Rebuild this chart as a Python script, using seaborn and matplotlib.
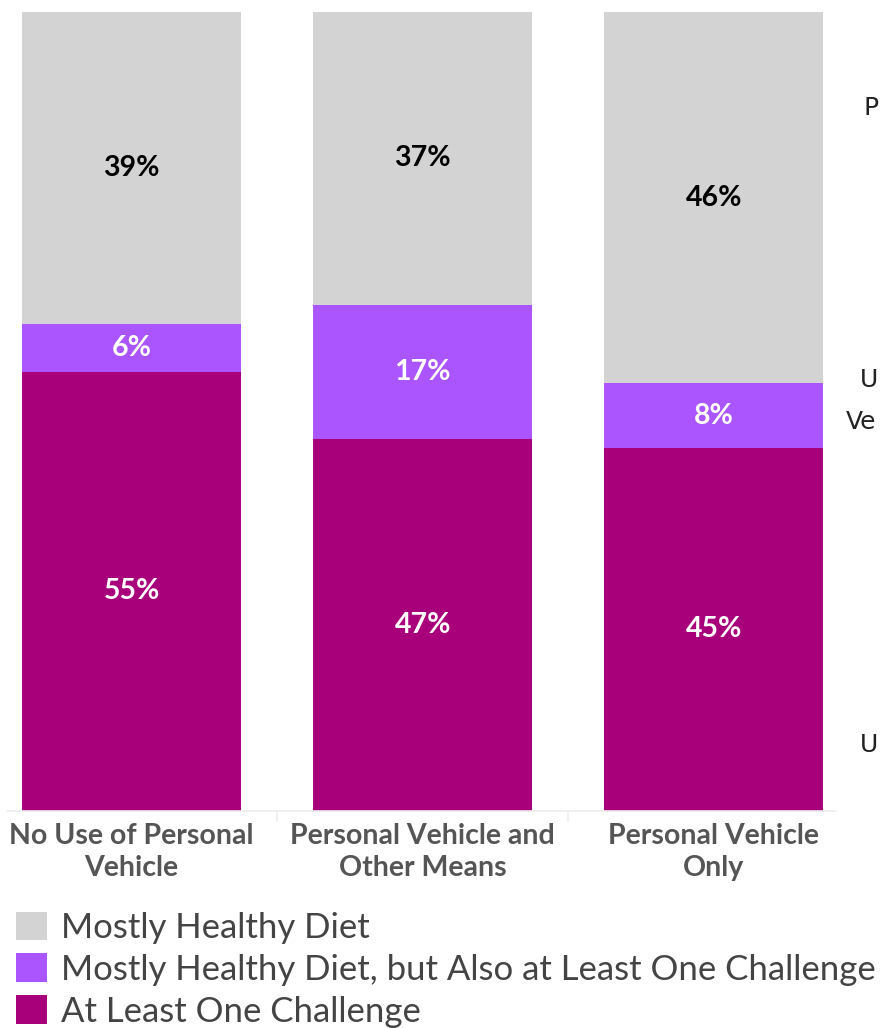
import matplotlib
matplotlib.use("Agg")
import matplotlib.pyplot as plt
import matplotlib.patches as mpatches
import seaborn as sns
import pandas as pd
import numpy as np

categories = ["No Use of Personal\nVehicle", "Personal Vehicle and\nOther Means", "Personal Vehicle\nOnly"]
series_names = ["Mostly Healthy Diet", "Mostly Healthy Diet, but Also at Least One Challenge", "At Least One Challenge"]
healthy = [39, 37, 46]
healthy_challenge = [6, 17, 8]
challenge = [55, 47, 45]
colors = ["#D3D3D3", "#AA55FF", "#A8007A"]
label_colors = ["black", "white", "white"]

sns.set_theme(style="white")
plt.rcParams["font.family"] = ["Lato", "DejaVu Sans"]

vals = np.array([healthy, healthy_challenge, challenge], dtype=float)
norm = vals / vals.sum(axis=0) * 100  # stacked 100%
bottom_layer = norm[2]
mid_layer = norm[2] + norm[1]
top_layer = norm[2] + norm[1] + norm[0]

df = pd.DataFrame({"cat": categories, "top": top_layer, "mid": mid_layer, "bot": bottom_layer})

fig = plt.figure(figsize=(8.82, 10.28), dpi=100)
ax = fig.add_axes([7/882, 1 - 811/1028, (836-7)/882, (811-12)/1028])

w = 219/291
sns.barplot(data=df, x="cat", y="top", color=colors[0], width=w, ax=ax, saturation=1, linewidth=0)
sns.barplot(data=df, x="cat", y="mid", color=colors[1], width=w, ax=ax, saturation=1, linewidth=0)
sns.barplot(data=df, x="cat", y="bot", color=colors[2], width=w, ax=ax, saturation=1, linewidth=0)

ax.set_ylim(0, 100)
ax.set_xlim(-0.428, 2.42)
ax.set_xlabel("")
ax.set_ylabel("")
ax.set_yticks([])
for s in ["top", "right", "left"]:
    ax.spines[s].set_visible(False)
ax.spines["bottom"].set_color("#EEEEEE")
ax.spines["bottom"].set_linewidth(1.2)
ax.tick_params(axis="x", length=0, pad=9)
for t in ax.get_xticklabels():
    t.set_fontsize(20.5)
    t.set_color("#555555")
    t.set_fontweight("bold")
    t.set_linespacing(1.25)
for xs in [0.5, 1.5]:
    ax.plot([xs, xs], [0, -1.2], color="#EEEEEE", lw=1.2, clip_on=False)

lows = [np.zeros(3), norm[2], norm[2] + norm[1]]
layer_vals = [challenge, healthy_challenge, healthy]
layer_cols = [label_colors[2], label_colors[1], label_colors[0]]
layer_norm = [norm[2], norm[1], norm[0]]
for lo, v, nv, c in zip(lows, layer_vals, layer_norm, layer_cols):
    for i in range(3):
        ax.text(i, lo[i] + nv[i] / 2, f"{v[i]}%", ha="center", va="center",
                fontsize=20.5, fontweight="bold", color=c)

handles = [mpatches.Patch(facecolor=c, edgecolor="none") for c in colors]
fig.legend(handles, series_names, loc="upper left", bbox_to_anchor=(0.0, 1 - 896/1028),
           frameon=False, fontsize=25, labelcolor="#444444", handlelength=0.9,
           handleheight=0.9, handletextpad=0.4, labelspacing=0.27, borderaxespad=0.3,
           borderpad=0.15)

fig.text(864/882, 1 - 108/1028, "P", fontsize=18, color="#222222", va="center", ha="left", family="DejaVu Sans")
fig.text(860/882, 1 - 380/1028, "U", fontsize=18, color="#222222", va="center", ha="left", family="DejaVu Sans")
fig.text(846/882, 1 - 422/1028, "Ve", fontsize=18, color="#222222", va="center", ha="left", family="DejaVu Sans")
fig.text(860/882, 1 - 745/1028, "U", fontsize=18, color="#222222", va="center", ha="left", family="DejaVu Sans")

fig.savefig("out.png", dpi=100)
